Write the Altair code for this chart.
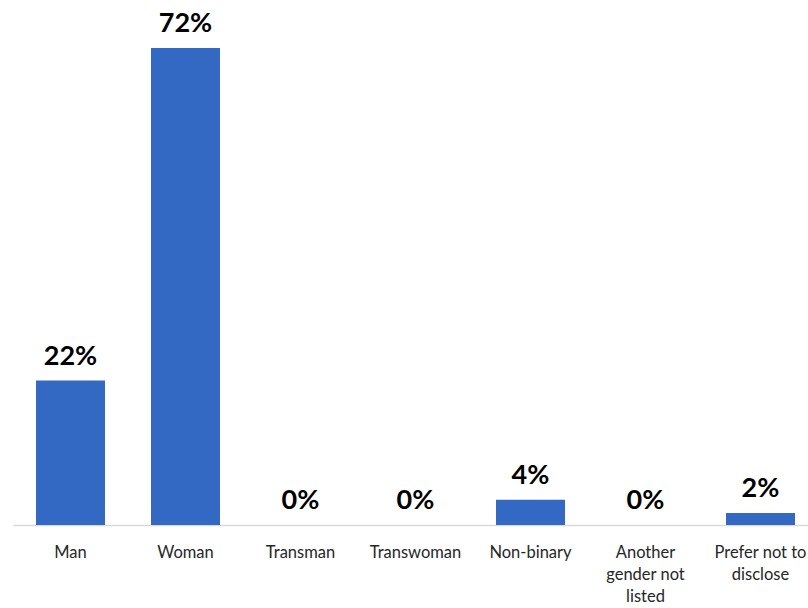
import altair as alt
import pandas as pd

categories = ["Man", "Woman", "Transman", "Transwoman", "Non-binary",
              "Another gender not listed", "Prefer not to disclose"]
values = [21.8, 72.0, 0.0, 0.0, 3.8, 0.0, 1.8]
labels = ["22%", "72%", "0%", "0%", "4%", "0%", "2%"]

df = pd.DataFrame({"cat": categories, "val": values, "lab": labels})

label_expr = ("datum.value == 'Another gender not listed' ? ['Another', 'gender not', 'listed'] : "
              "datum.value == 'Prefer not to disclose' ? ['Prefer not to', 'disclose'] : datum.label")

x = alt.X("cat:N", sort=categories, title=None,
          scale=alt.Scale(paddingInner=0.4, paddingOuter=0.2, range=[0, 805]),
          axis=alt.Axis(labelAngle=0, labelExpr=label_expr, labelFont="Lato",
                        labelFontSize=16.5, labelColor="#262626", labelPadding=19,
                        labelLineHeight=22, ticks=False, domainColor="#d9d9d9",
                        domainWidth=1.5, labelLimit=200, labelOverlap=False))
y = alt.Y("val:Q", scale=alt.Scale(domain=[0, 79.25], nice=False), axis=None)

bars = alt.Chart(df).mark_bar(color="#3469C3").encode(x=x, y=y)
text = alt.Chart(df).mark_text(font="Lato", fontWeight="bold", fontSize=27,
                               baseline="bottom", dy=-10, color="#000000").encode(
    x=alt.X("cat:N", sort=categories), y="val:Q", text="lab:N")

chart = (bars + text).properties(
    width=795, height=525,
    padding={"left": 13, "top": 0, "right": 0, "bottom": 83},
    autosize=alt.AutoSizeParams(type="none"),
    background="white",
).configure_view(strokeWidth=0, stroke="transparent")

chart.save("out.html", embed_options={"renderer": "svg", "actions": False})
